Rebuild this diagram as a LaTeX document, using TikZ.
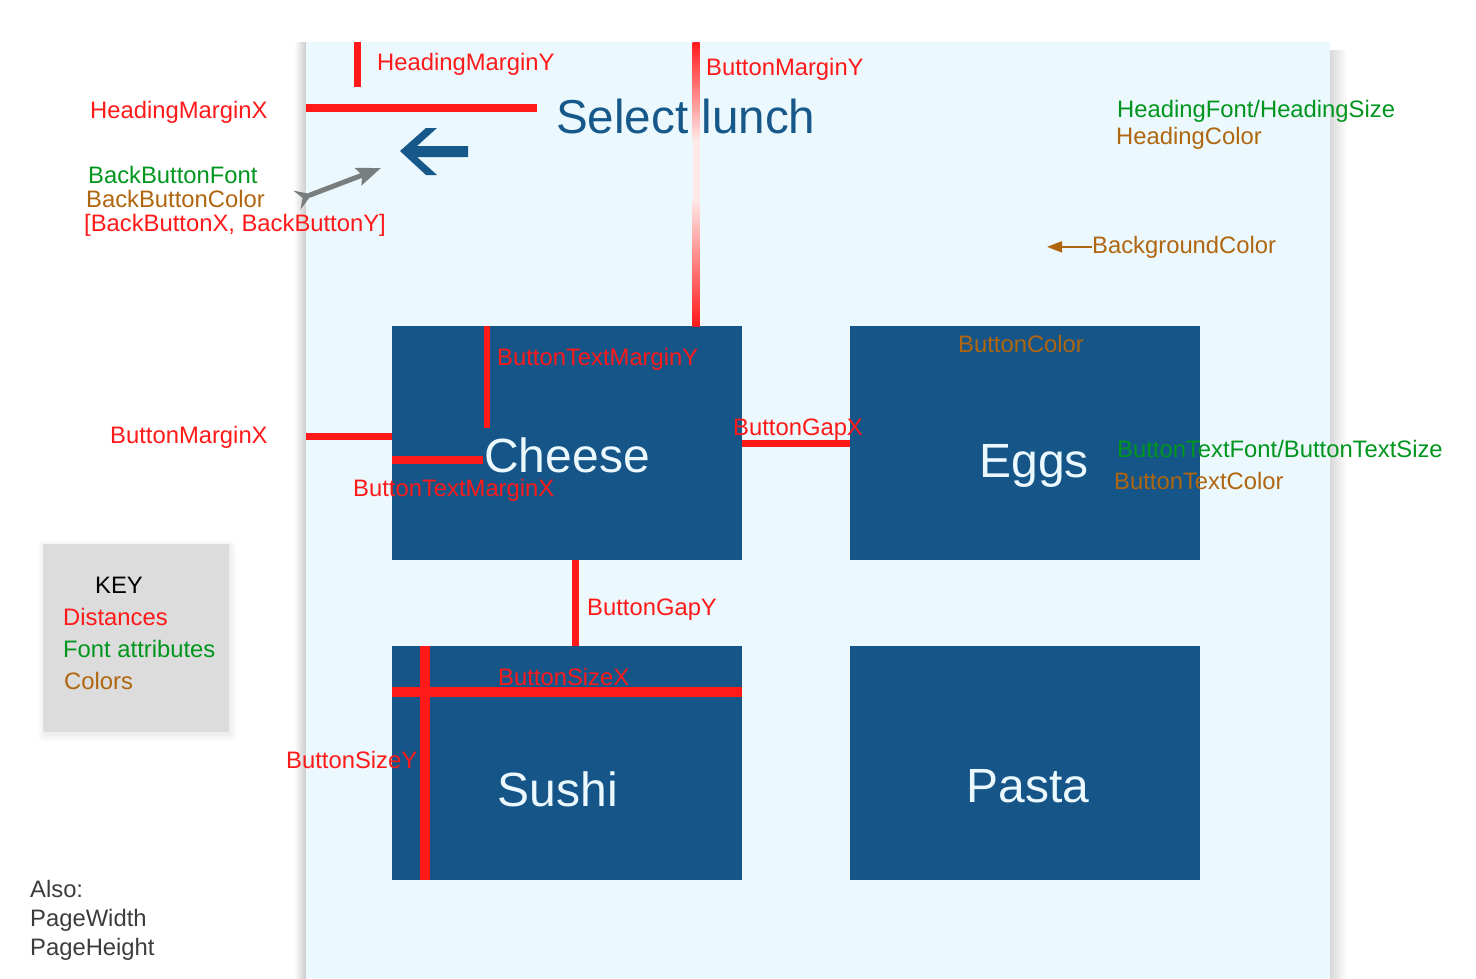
\documentclass[tikz,border=0pt]{standalone}
\usepackage{fontspec}
\setmainfont{Liberation Sans}
\usetikzlibrary{arrows.meta,shadows.blur}

\definecolor{pagebg}{RGB}{235,248,253}
\definecolor{btnblue}{RGB}{21,85,135}
\definecolor{headblue}{RGB}{22,88,138}
\definecolor{distred}{RGB}{255,25,25}
\definecolor{fontgreen}{RGB}{0,150,30}
\definecolor{colbrown}{RGB}{176,102,14}
\definecolor{keygray}{RGB}{220,220,220}
\definecolor{pointgray}{RGB}{120,126,126}
\definecolor{alsogray}{RGB}{60,60,60}

\newcommand\lblfont{\fontsize{23.8}{26}\selectfont}
\newcommand\btnfont{\fontsize{48}{52}\selectfont}

\begin{document}
\begin{tikzpicture}[x=1pt,y=-1pt,
  page/.style={fill=pagebg,minimum width=1024pt,minimum height=936pt,inner sep=0},
  btn/.style={fill=btnblue,minimum width=350pt,minimum height=234pt,inner sep=0},
  btntxt/.style={anchor=base,inner sep=0,font=\btnfont,text=pagebg},
  lbl/.style={anchor=base west,inner sep=0,font=\lblfont},
  dlbl/.style={lbl,text=distred},
  flbl/.style={lbl,text=fontgreen},
  clbl/.style={lbl,text=colbrown},
  dist/.style={draw=distred,line width=7pt},
  keybox/.style={fill=keygray,minimum width=186pt,minimum height=188pt,inner sep=0,
    blur shadow={shadow xshift=1pt,shadow yshift=-3pt,shadow opacity=12,shadow blur radius=8pt,shadow blur steps=12}}
]
\useasboundingbox (0,0) rectangle (1476,978);

% page with its shadow
\shade[left color=white,right color=black!20] (294,42) rectangle (306,978);
\shade[left color=black!15,right color=white] (1330,50) rectangle (1347,978);
\node[page] (page) at (818,510) {};

\node[anchor=base west,inner sep=0,font=\fontsize{47.6}{50}\selectfont,text=headblue] (heading) at (556,133) {Select lunch};
\fill[headblue] (400,151) -- (426,128) -- (437,128) -- (417,146) -- (468,146) -- (468,157)
  -- (417,157) -- (437,175) -- (426,175) -- cycle;

\node[btn] (cheese) at (567,443) {};
\node[btn] (eggs) at (1025,443) {};
\node[btn] (sushi) at (567,763) {};
\node[btn] (pasta) at (1025,763) {};
\node[btntxt] (cheesetxt) at (567,472) {Cheese};
\node[btntxt] (eggstxt) at (1034,477) {Eggs};
\node[btntxt] (sushitxt) at (558,806) {Sushi};
\node[btntxt] (pastatxt) at (1028,802) {Pasta};

% distances
\draw[dist] ([xshift=52]page.north west) -- ++(0,45);
\draw[dist,line width=8pt] ([yshift=-66]page.north west) -- ++(231,0);
\shade[top color=distred,bottom color=distred!10] (692.5,42) rectangle (699.5,140);
\fill[distred!10] (692.5,140) rectangle (699.5,200);
\shade[top color=distred!10,bottom color=distred] (692.5,200) rectangle (699.5,326);
\draw[dist] ([yshift=7]cheese.west) -- ++(-86,0);
\draw[dist,line width=6pt] ([xshift=95]cheese.north west) -- ++(0,102);
\draw[dist,line width=8pt] ([yshift=-134]cheese.north west) -- ++(91,0);
\draw[dist] ([yshift=-0.5]cheese.east) -- ([yshift=-0.5]eggs.west);
\draw[dist] ([xshift=8.5]cheese.south) -- ([xshift=8.5]sushi.north);
\draw[dist,line width=10pt] ([yshift=-46]sushi.north west) -- ([yshift=-46]sushi.north east);
\draw[dist,line width=10pt] ([xshift=33]sushi.north west) -- ([xshift=33]sushi.south west);

\node[dlbl] (hmy) at (377,70.5) {HeadingMarginY};
\node[dlbl] (bmy) at (706,75.5) {ButtonMarginY};
\node[dlbl] (hmx) at (90,118.5) {HeadingMarginX};
\node[dlbl] (btmy) at (497,365.5) {ButtonTextMarginY};
\node[dlbl] (bmx) at (110,443.5) {ButtonMarginX};
\node[dlbl] (bgx) at (733,435.5) {ButtonGapX};
\node[dlbl] (btmx) at (353,496.5) {ButtonTextMarginX};
\node[dlbl] (bgy) at (587,615.5) {ButtonGapY};
\node[dlbl] (bsx) at (498,685.5) {ButtonSizeX};
\node[dlbl] (bsy) at (286,768.5) {ButtonSizeY};

% fonts and colours
\node[flbl] (hfont) at (1117,117.5) {HeadingFont/HeadingSize};
\node[clbl] (hcol) at (1116,144.5) {HeadingColor};
\node[flbl] (bbfont) at (88,183.5) {BackButtonFont};
\node[clbl] (bbcol) at (86,207.5) {BackButtonColor};
\node[dlbl] (bbxy) at (84,231.5) {[BackButtonX, BackButtonY]};
\node[clbl] (bgcol) at (1092,253) {BackgroundColor};
\node[clbl] (bcol) at (958,352.5) {ButtonColor};
\node[flbl] (btfont) at (1117,457) {ButtonTextFont/ButtonTextSize};
\node[clbl] (btcol) at (1114,489) {ButtonTextColor};

\coordinate (bbtail) at (297,200);
\coordinate (bbhead) at (381,168);
\draw[pointgray,line width=5pt,{Stealth[reversed,length=16pt,width=20pt,inset=6pt]}-{Stealth[length=24pt,width=18pt,inset=4pt]}] (bbtail) -- (bbhead);
\draw[colbrown,line width=2pt,-{Triangle[length=15pt,width=11pt]}] (bgcol.west) -- ++(-45,0);

% key
\node[keybox] (key) at (136,638) {};
\node[lbl] (keytitle) at (95,593.5) {KEY};
\node[dlbl] (keyd) at (63,625.5) {Distances};
\node[flbl] (keyf) at (63,657.5) {Font attributes};
\node[clbl] (keyc) at (64,689.5) {Colors};

\node[lbl,text=alsogray] (also) at (30,897) {Also:};
\node[lbl,text=alsogray] (pw) at (30,926) {PageWidth};
\node[lbl,text=alsogray] (ph) at (30,955) {PageHeight};

\end{tikzpicture}
\end{document}
